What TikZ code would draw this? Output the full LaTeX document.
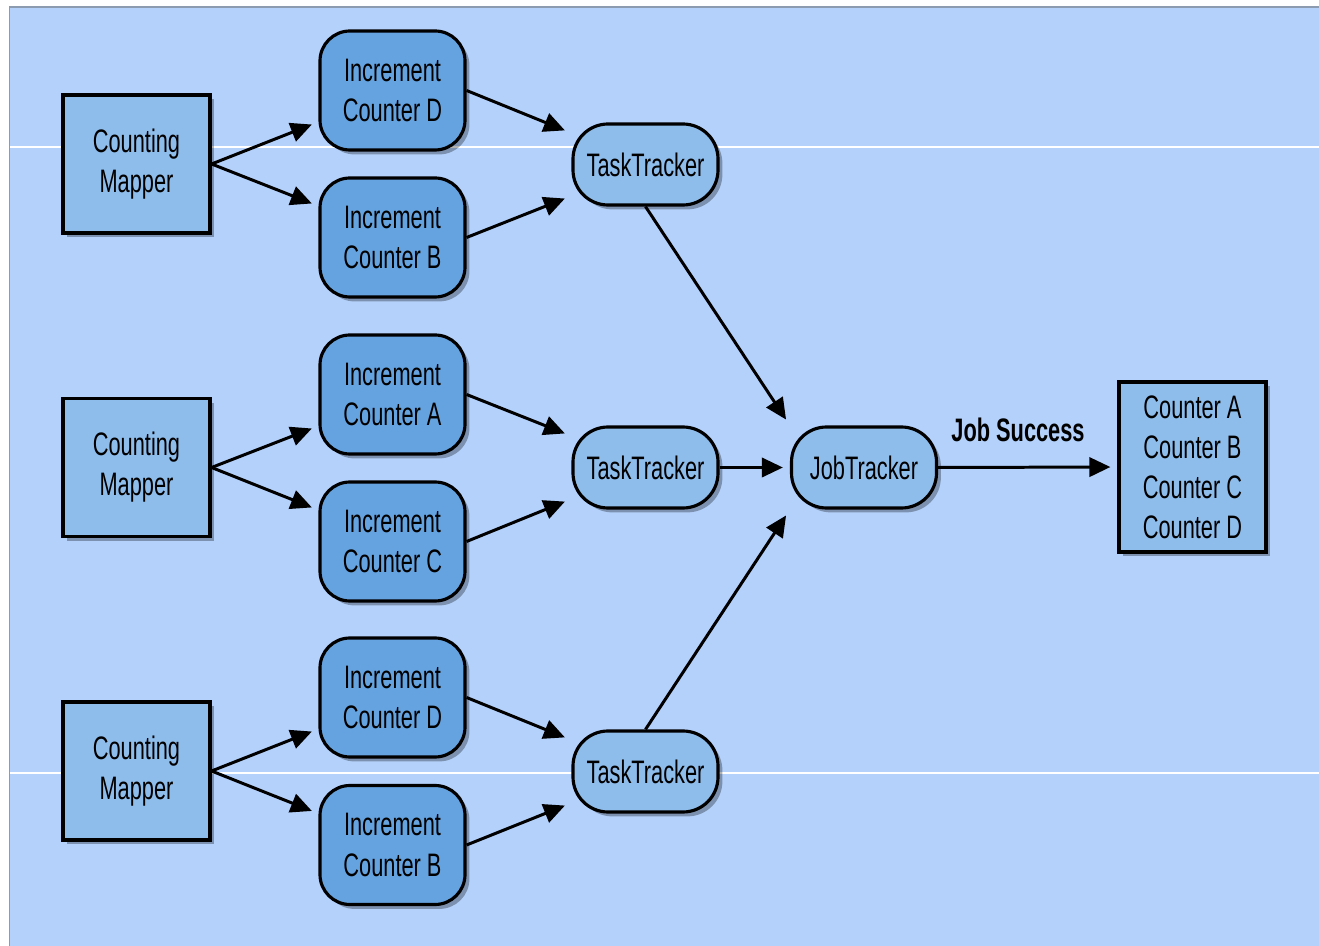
\documentclass[tikz,border=0pt]{standalone}
\usepackage{fontspec}
\setmainfont{Liberation Sans}[FakeStretch=0.67]
\usetikzlibrary{arrows.meta,positioning,shadows}
\definecolor{bgblue}{HTML}{B3D1FB}
\definecolor{boxblue}{HTML}{8EBDEC}
\definecolor{incblue}{HTML}{65A3E0}
\definecolor{frame}{HTML}{8C9BB0}

\begin{document}
\begin{tikzpicture}[
    shade/.style={drop shadow={shadow xshift=2.5pt, shadow yshift=-2.5pt, opacity=0.3, fill=black}},
    mapper/.style={rectangle, draw, line width=1.8pt, fill=boxblue, shade,
                minimum width=2.94cm, minimum height=2.76cm,
                align=center, font=\fontsize{18.5}{22.8}\selectfont},
    incr/.style={rectangle, draw, line width=1.8pt, rounded corners=0.6cm, fill=incblue, shade,
                minimum width=2.9cm, minimum height=2.38cm,
                align=center, font=\fontsize{18.5}{22.8}\selectfont},
    tracker/.style={rectangle, draw, line width=1.8pt, rounded corners=0.7cm, fill=boxblue, shade,
                minimum width=2.9cm, minimum height=1.62cm,
                align=center, font=\fontsize{18.5}{22.8}\selectfont},
    result/.style={rectangle, draw, line width=1.8pt, fill=boxblue, shade,
                minimum width=2.94cm, minimum height=3.4cm,
                align=center, font=\fontsize{18.5}{22.8}\selectfont},
    link/.style={->, line width=1.7pt, shorten >=4pt},
    >={Triangle[length=12pt,width=11pt]}
]
\useasboundingbox (0,0) rectangle (26.38,-18.92);
% background and frame
\fill[bgblue] (0.19,-0.14) rectangle (26.38,-18.92);
\draw[frame, line width=1pt] (0.19,-18.92) -- (0.19,-0.14) -- (26.38,-0.14);
\draw[white, line width=0.9pt] (0.2,-2.94) -- (26.38,-2.94);
\draw[white, line width=0.9pt] (0.2,-15.46) -- (26.38,-15.46);

% mappers
\node[mapper] (m1) at (2.73,-3.28) {Counting\\Mapper};
\node[mapper] (m2) at (2.73,-9.35) {Counting\\Mapper};
\node[mapper] (m3) at (2.73,-15.42) {Counting\\Mapper};

% counter increments
\node[incr] (i1) at (7.85,-1.81) {Increment\\Counter D};
\node[incr] (i2) at (7.85,-4.75) {Increment\\Counter B};
\node[incr] (i3) at (7.85,-7.89) {Increment\\Counter A};
\node[incr] (i4) at (7.85,-10.83) {Increment\\Counter C};
\node[incr] (i5) at (7.85,-13.95) {Increment\\Counter D};
\node[incr] (i6) at (7.85,-16.90) {Increment\\Counter B};

% trackers
\node[tracker] (tt1) at (12.91,-3.29) {TaskTracker};
\node[tracker] (tt2) at (12.91,-9.35) {TaskTracker};
\node[tracker] (tt3) at (12.91,-15.43) {TaskTracker};
\node[tracker] (jt) at (17.28,-9.35) {JobTracker};

\node[result] (cnt) at (23.85,-9.34) {Counter A\\Counter B\\Counter C\\Counter D};
\node[font=\fontsize{18.5}{22.8}\selectfont\bfseries] (success) at (20.36,-8.6) {Job Success};

\draw[link] (m1.east) -- (i1.203);
\draw[link] (m1.east) -- (i2.157);
\draw[link] (m2.east) -- (i3.203);
\draw[link] (m2.east) -- (i4.157);
\draw[link] (m3.east) -- (i5.203);
\draw[link] (m3.east) -- (i6.157);

\draw[link] (i1.east) -- (tt1.157);
\draw[link] (i2.east) -- (tt1.203);
\draw[link] (i3.east) -- (tt2.157);
\draw[link] (i4.east) -- (tt2.203);
\draw[link] (i5.east) -- (tt3.157);
\draw[link] (i6.east) -- (tt3.203);

\draw[link] (tt1.south) -- (jt.north west);
\draw[link] (tt2.east) -- (jt.west);
\draw[link] (tt3.north) -- (jt.south west);
\draw[link] (jt.east) -- (cnt.west);
\end{tikzpicture}
\end{document}
